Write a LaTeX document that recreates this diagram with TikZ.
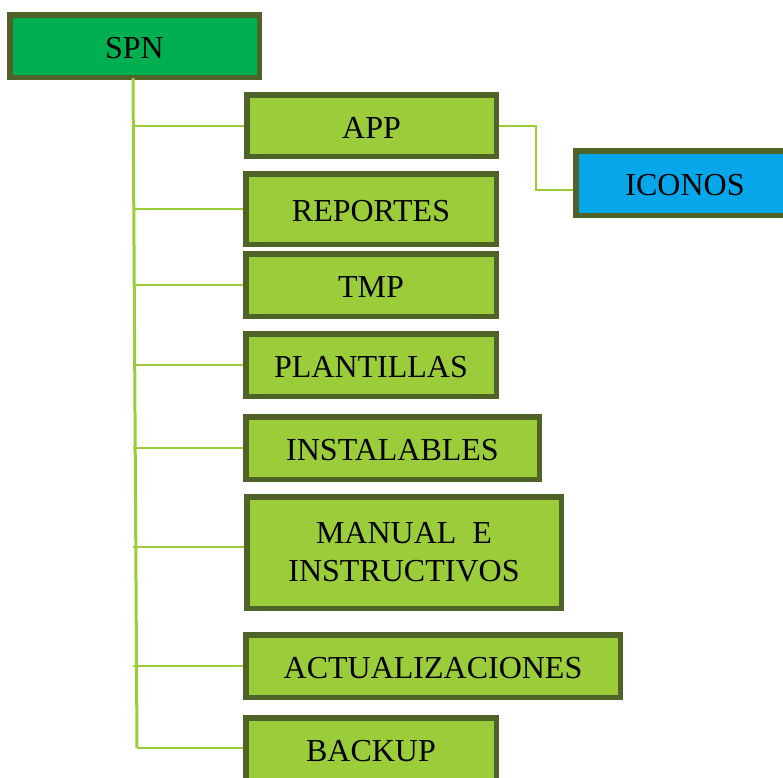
\documentclass[tikz,border=0pt]{standalone}
\usepackage{fontspec}
\setmainfont{Liberation Serif}
\definecolor{borderdk}{RGB}{79,98,40}
\definecolor{limefill}{RGB}{155,204,58}
\definecolor{spnfill}{RGB}{0,176,80}
\definecolor{iconfill}{RGB}{6,166,234}
\definecolor{linelime}{RGB}{155,204,58}
\tikzset{
  box/.style={draw=borderdk, line width=5.5pt, inner sep=0pt, rectangle,
    font=\fontsize{32}{38}\selectfont, text height=25.2pt, text depth=0pt},
  leaf/.style={box, fill=limefill},
  trunk/.style={draw=linelime, line width=3pt},
  twig/.style={draw=linelime, line width=2pt},
}
\begin{document}
\begin{tikzpicture}[x=1pt,y=-1pt]
\useasboundingbox (0,0) rectangle (783,777);
\clip (0,0) rectangle (783,777);
% nodes (outer size minus 5.5pt border)
\node[box, fill=spnfill, minimum width=249.5pt, minimum height=62.5pt] (spn) at (134.5,46) {SPN};
\node[leaf, minimum width=249.5pt, minimum height=61.5pt] (app) at (371.5,125.5) {APP};
\node[leaf, minimum width=250.5pt, minimum height=70.5pt] (rep) at (371,209) {REPORTES};
\node[leaf, minimum width=250.5pt, minimum height=62.5pt] (tmp) at (371,285) {TMP};
\node[leaf, minimum width=250.5pt, minimum height=62.5pt] (pla) at (371,365) {PLANTILLAS};
\node[leaf, minimum width=293.5pt, minimum height=62.5pt] (ins) at (392.5,448) {INSTALABLES};
\node[leaf, minimum width=314.5pt, minimum height=111.5pt, align=center,
      text height=, text depth=] (man) at (404,552.5) {MANUAL\ \ E\\INSTRUCTIVOS};
\node[leaf, minimum width=374.5pt, minimum height=62.5pt] (act) at (433,666) {ACTUALIZACIONES};
\node[leaf, minimum width=250.5pt, minimum height=62.5pt] (bak) at (371,749) {BACKUP};
\node[box, fill=iconfill, minimum width=218.5pt, minimum height=64.5pt] (ico) at (685,183) {ICONOS};
% connectors
\coordinate (ttop) at (133,78);
\coordinate (tbot) at (137,748);
\coordinate (manj) at (133,547);
\draw[trunk] (ttop) -- (tbot);
\draw[twig] (app.west -| ttop) -- (app.west);
\draw[twig] (rep.west -| ttop) -- (rep.west);
\draw[twig] (tmp.west -| ttop) -- (tmp.west);
\draw[twig] (pla.west -| ttop) -- (pla.west);
\draw[twig] (ins.west -| ttop) -- (ins.west);
\draw[twig] (manj) -- (man.west |- manj);
\draw[twig] (act.west -| ttop) -- (act.west);
\draw[twig] (tbot) -- (bak.west |- tbot);
\draw[twig] (app.east) -- ++(37,0) |- ([yshift=-7pt]ico.west);
\end{tikzpicture}
\end{document}
